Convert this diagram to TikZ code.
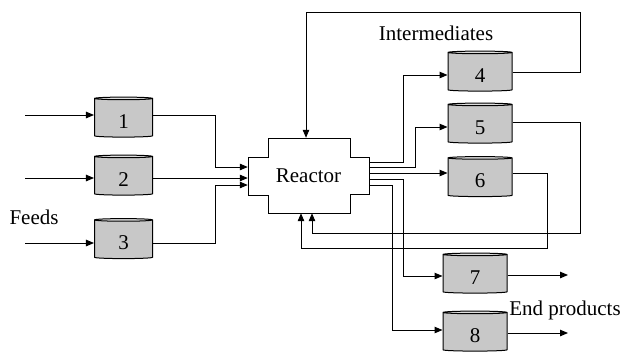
\documentclass[tikz,border=0pt]{standalone}
\usepackage{fontspec}
\setmainfont{Liberation Serif}
\usepackage{tikz}
\usetikzlibrary{positioning,shapes.geometric,arrows.meta}
\definecolor{tankbody}{RGB}{200,200,200}
\definecolor{tanktop}{RGB}{222,222,222}

\begin{document}
\begin{tikzpicture}[x=1pt,y=-1pt,
    flow/.style={line width=1pt,-{Triangle[length=8pt,width=6.5pt]}},
    lbl/.style={font=\fontsize{21}{25}\selectfont},
    tank/.style={lbl,cylinder,shape border rotate=90,aspect=0.25,draw,line width=1pt,
      cylinder uses custom fill,cylinder body fill=tankbody,cylinder end fill=tanktop,
      inner sep=0pt,text height=20pt,text depth=0pt,minimum width=58pt,minimum height=40pt},
    bigtank/.style={tank,minimum width=64pt}]
        \useasboundingbox (0,0) rectangle (623,354);
        % feed tanks
        \node[tank] (t1) at (123.5,118) {1};
        \node[tank] (t2) at (123.5,176) {2};
        \node[tank] (t3) at (123.5,239.5) {3};
        % intermediate and product tanks
        \node[bigtank] (t4) at (480,72) {4};
        \node[bigtank] (t5) at (480,124) {5};
        \node[bigtank] (t6) at (480,177.5) {6};
        \node[bigtank] (t7) at (475,274) {7};
        \node[bigtank] (t8) at (475,332) {8};
        % reactor
        \node[lbl,inner sep=0pt,minimum width=121pt,minimum height=75pt] (reactor) at (308.5,175.5) {Reactor};
        \draw[line width=1pt] (268,138) -- (350,138) -- (350,157) -- (369,157) -- (369,194) -- (350,194)
          -- (350,213) -- (268,213) -- (268,195) -- (248,195) -- (248,157) -- (268,157) -- cycle;
        \node[lbl] (feeds) at (34,217) {Feeds};
        \node[lbl] (inter) at (436,33) {Intermediates};
        \node[lbl] (endp) at (565,310) {End products};
        \coordinate (fd1) at (25,115);
        \coordinate (fd2) at (25,178);
        \coordinate (fd3) at (25,243);
        \coordinate (out7) at (568,275);
        \coordinate (out8) at (568,333);
        % feeds in
        \draw[flow] (fd1) -- (fd1 -| t1.west);
        \draw[flow] (fd2) -- (fd2 -| t2.west);
        \draw[flow] (fd3) -- (fd3 -| t3.west);
        \draw[flow] (t1.east |- fd1) -| (215,167) -- (reactor.west |- 0,167);
        \draw[flow] (t2.east |- fd2) -- (reactor.west |- fd2);
        \draw[flow] (t3.east |- fd3) -| (215,185) -- (reactor.west |- 0,185);
        % reactor out
        \draw[flow] (reactor.east |- 0,162) -| (403,75) -- (t4.west |- 0,75);
        \draw[flow] (reactor.east |- 0,167) -| (415,127) -- (t5.west |- 0,127);
        \draw[flow] (reactor.east |- 0,173) -- (t6.west |- 0,173);
        \draw[flow] (reactor.east |- 0,179) -| (403,276) -- (t7.west |- 0,276);
        \draw[flow] (reactor.east |- 0,185) -| (392,330) -- (t8.west |- 0,330);
        % recycle
        \draw[flow] (t4.east |- 0,72) -| (580,12) -| (reactor.north -| 306,0);
        \draw[flow] (t5.east |- 0,122) -| (580,233) -| (reactor.south -| 312,0);
        \draw[flow] (t6.east |- 0,173) -| (547,248) -| (reactor.south -| 301,0);
        % products
        \draw[flow] (t7.east |- out7) -- (out7);
        \draw[flow] (t8.east |- out8) -- (out8);
      \end{tikzpicture}
\end{document}
